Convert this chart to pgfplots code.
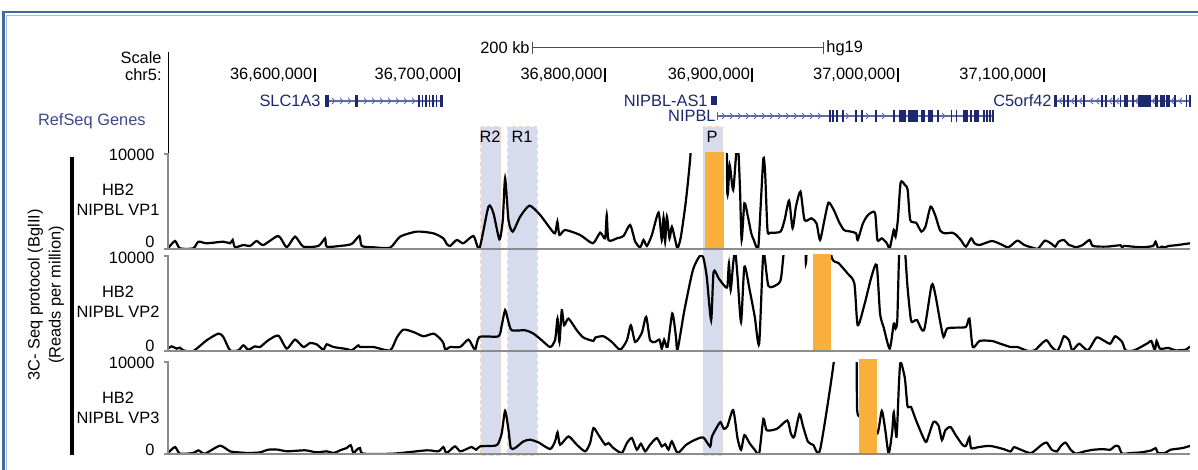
\documentclass[border=0pt]{standalone}
\usepackage{pgfplots}
\pgfplotsset{compat=1.18}
\usepackage{fontspec}
\setmainfont{Liberation Sans}
\definecolor{hl}{RGB}{214,219,237}
\definecolor{hlb}{RGB}{247,210,190}
\definecolor{org}{RGB}{250,174,60}
\definecolor{gnav}{RGB}{30,40,110}
\definecolor{gint}{RGB}{95,105,170}
\definecolor{frameb}{RGB}{62,108,160}
\definecolor{framel}{RGB}{165,190,218}
\definecolor{axg}{RGB}{140,140,140}
\definecolor{refc}{RGB}{60,72,140}
\newcommand\tf{\fontsize{8.2}{10}\selectfont}
\pgfplotsset{
  panel/.style={scale only axis, width=511pt, xmin=36500, xmax=37200, ymin=0, ymax=10000,
    hide axis, anchor=south west, clip mode=individual},
  trace/.style={black, line width=1.1pt, smooth, tension=0.4}
}
\begin{document}
\begin{tikzpicture}[x=0.5pt,y=-0.5pt, every node/.style={font=\tf, inner sep=0pt}]
\path[use as bounding box] (0,0) rectangle (1198,470);
% frame
\draw[frameb, line width=1.3pt] (3.5,470) -- (3.5,12) -- (1198,12);
\draw[framel, line width=0.5pt] (6,470) -- (6,15.5) -- (1198,15.5);
% highlight regions
\foreach \a/\b in {480.7/500.7, 507.7/537.3, 703.3/722.5} {
  \fill[hl] (\a,127) rectangle (\b,455);
  \draw[hlb, line width=0.5pt, dash pattern=on 2pt off 1.5pt] (\a,127) rectangle (\b,455);
}
\node at (490,137) {R2};
\node at (522,137) {R1};
\node at (712,137) {P};
% header
\node[anchor=east] at (162,58) {Scale};
\node[anchor=east] at (162,75) {chr5:};
\draw[line width=0.5pt] (168,52) -- (168,154);
\node[anchor=east] at (530,48) {200 kb};
\draw[black!70, line width=0.5pt] (532,42)--(532,54) (532,48)--(823,48) (823,42)--(823,54);
\node[anchor=west] at (826,48) {hg19};
\node[anchor=east] at (312.6,75) {36,600,000};
\node[anchor=east] at (457.2,75) {36,700,000};
\node[anchor=east] at (603,75) {36,800,000};
\node[anchor=east] at (750.3,75) {36,900,000};
\node[anchor=east] at (895.7,75) {37,000,000};
\node[anchor=east] at (1041.9,75) {37,100,000};
\foreach \x in {314.6,459.2,605,752.3,897.7,1043.9} \draw[line width=1pt] (\x,68)--(\x,82);
% genes
\node[anchor=east, text=refc] at (146,121) {RefSeq Genes};
\node[anchor=east, text=gnav] at (321,101) {SLC1A3};
\node[anchor=east, text=gnav] at (708,101) {NIPBL-AS1};
\node[anchor=east, text=gnav] at (716,116) {NIPBL};
\node[anchor=east, text=gnav] at (1052,101) {C5orf42};
% SLC1A3
\draw[gint, line width=0.6pt] (324.5,101)--(443,101);
\foreach \x in {334,342,...,414} \draw[gint, line width=0.5pt] (\x-2,98)--(\x+1,101)--(\x-2,104);
\foreach \a/\b in {324.5/328.5, 355/357.5, 418/419.6, 421.5/423.1, 425/426.6, 428.5/430.1, 432/433.6, 435.5/437.1, 439.5/443}
  \fill[gnav] (\a,95) rectangle (\b,107);
% NIPBL-AS1
\fill[gnav] (710.5,96) rectangle (717,105);
% NIPBL
\draw[gint, line width=0.6pt] (717,116)--(994,116);
\draw[gint, line width=0.6pt] (717.5,112)--(717.5,120);
\foreach \x in {724,732,...,824} \draw[gint, line width=0.5pt] (\x-2,113)--(\x+1,116)--(\x-2,119);
\foreach \x in {848,868,884,914,944} \draw[gint, line width=0.5pt] (\x-2,113)--(\x+1,116)--(\x-2,119);
\foreach \a/\b in {829/830.5, 832/833.5, 836/837.5, 842/843.5, 855/856.5, 861/862.5, 875/876.5, 893/894.5, 898.5/906, 908/918, 921/925, 928/933, 937/939, 951/952, 956/957, 963/968, 970/972, 974/979, 983/984.5, 986/987.5, 989/990.5, 992/994}
  \fill[gnav] (\a,110) rectangle (\b,122);
% C5orf42
\draw[gint, line width=0.6pt] (1053.5,101)--(1191,101);
\foreach \x in {1060,1072,1080,1091,1097,1110,1117,1136,1153,1172,1180} \draw[gint, line width=0.5pt] (\x+2,98)--(\x-1,101)--(\x+2,104);
\foreach \a/\b in {1053.5/1057, 1063/1064.5, 1067/1069, 1075/1076.5, 1083/1084.5, 1101/1102.5, 1105/1106.5, 1113/1115, 1119.5/1121, 1124/1128, 1132/1134, 1138/1151, 1155/1158, 1159.5/1164.5, 1166/1170, 1174/1175.5, 1185.5/1187, 1189/1190.5}
  \fill[gnav] (\a,95) rectangle (\b,107);
% left labels
\draw[line width=1.6pt] (72,157)--(72,455);
\node[rotate=90, align=center, font=\fontsize{8.2}{10.5}\selectfont] at (46,295) {3C- Seq protocol (BglII)\\(Reads per million)};
\node[align=center] at (118,200) {HB2\\NIPBL VP1};
\node[align=center] at (118,302) {HB2\\NIPBL VP2};
\node[align=center] at (118,408) {HB2\\NIPBL VP3};
\node[anchor=east] at (155,155) {10000};
\node[anchor=east] at (155,242) {0};
\node[anchor=east] at (155,258) {10000};
\node[anchor=east] at (155,346) {0};
\node[anchor=east] at (155,363) {10000};
\node[anchor=east] at (155,450) {0};
\coordinate (A1) at (168,249);
\coordinate (A2) at (168,351);
\coordinate (A3) at (168,454);
% panel 1
\begin{axis}[panel, at={(A1)}, height=47.5pt]
\addplot[trace] table {
36500 70
36504.8 840
36508.2 70
36517.3 70
36520.8 770
36526.5 600
36537.9 770
36542.5 600
36544.3 950
36545.9 180
36551.6 420
36556.2 320
36560.7 840
36565.3 420
36575.6 1370
36581.3 180
36587.0 1300
36592.7 250
36603.0 320
36607.6 1120
36608.7 250
36617.8 320
36625.8 530
36631.1 1370
36632.7 320
36640.7 180
36652.1 140
36659.0 1300
36670.4 1830
36681.8 1650
36688.6 1120
36690.9 530
36693.2 320
36697.8 950
36702.3 600
36709.2 1370
36713.3 70
36719.5 4460
36722.9 3760
36727.0 1020
36729.3 3050
36730.9 7440
36733.2 3050
36736.1 1830
36741.2 3400
36747.6 4560
36754.9 3580
36761.7 2180
36765.1 1650
36766.7 2880
36768.1 1470
36772.0 2000
36782.3 1470
36791.0 600
36796.0 1720
36799.4 1120
36800.5 3580
36801.7 950
36807.4 1120
36812.0 1370
36816.5 2530
36820.0 770
36823.4 180
36825.7 950
36828.0 320
36831.4 1470
36836.0 3830
36838.2 950
36839.4 3330
36840.5 770
36841.7 3400
36843.5 1120
36845.1 2350
36847.4 950
36849.0 70
36851.3 1300
36854.8 5160
36857.9 10000
36859.5 15000
36880.5 20000
36883.1 5930
36884.7 8850
36887.1 6210
36889.4 10500
36890.6 10500
36891.8 6210
36892.9 950
36894.8 4810
36897.2 3400
36899.5 1650
36901.2 950
36904.2 70
36905.9 4460
36907.8 9550
36909.0 7970
36910.6 2000
36912.5 1720
36919.5 1830
36922.3 3050
36925.4 5090
36927.8 2180
36930.1 4460
36933.2 6040
36936.0 3050
36940.7 3230
36944.2 2700
36946.6 950
36949.6 3050
36952.4 4880
36956.0 4110
36959.5 2880
36963.0 2000
36967.7 1830
36971.3 1650
36972.4 950
36976.0 2700
36979.5 3580
36984.2 3830
36985.9 950
36988.9 1120
36992.4 600
36994.3 70
36997.1 2000
36998.3 1300
36999.9 3050
37001.8 6980
37004.7 6740
37006.6 6210
37008.4 3050
37012.4 2770
37016.0 1830
37018.8 2350
37022.3 4460
37025.4 3580
37028.9 1930
37032.4 1650
37037.1 1720
37039.9 1470
37043.0 950
37046.5 250
37050.1 1120
37052.4 600
37055.9 420
37064.2 840
37070.0 530
37074.8 180
37077.1 320
37081.8 880
37086.5 420
37091.2 180
37095.9 40
37100.6 880
37105.3 530
37107.7 250
37110.0 770
37113.6 950
37117.1 420
37119.4 320
37121.8 180
37126.5 420
37131.2 950
37133.5 320
37143.0 250
37152.4 390
37153.5 70
37154.7 320
37166.5 180
37174.7 320
37176.4 770
37178.2 70
37180.6 250
37182.9 180
37185.3 320
37190.0 390
37200.0 600
};
\fill[org] (axis cs:36867.8,0) rectangle (axis cs:36880.7,10250);
\end{axis}
% panel 2
\begin{axis}[panel, at={(A2)}, height=47.5pt]
\addplot[trace] table {
36500 250
36502.5 490
36505.9 250
36508.2 350
36510.5 70
36517.3 0
36526.5 1130
36534.5 1830
36537.9 1480
36542.5 70
36548.2 70
36551.6 600
36555.0 140
36559.6 490
36563.0 420
36568.7 1130
36575.6 1620
36581.3 250
36587.0 1200
36592.7 420
36597.3 840
36601.8 700
36606.4 140
36608.7 700
36613.3 420
36622.4 210
36625.8 70
36630.4 600
36631.5 420
36640.7 420
36652.1 70
36656.7 1410
36661.2 2250
36668.1 2000
36675.0 1550
36681.8 1830
36686.4 1300
36688.6 840
36690.0 140
36693.2 420
36700.1 420
36705.8 1200
36710.3 140
36713.3 1480
36726.3 1550
36728.6 2710
36730.9 4290
36733.2 3060
36735.5 2180
36744.6 2180
36750.3 1830
36756.0 1130
36761.7 420
36765.1 1130
36766.8 3410
36768.1 950
36769.7 4290
36771.3 2710
36774.3 3410
36780.0 2180
36784.6 1410
36791.4 1060
36792.6 1410
36798.3 1550
36804.0 950
36809.7 140
36814.3 1130
36817.0 2710
36820.0 950
36824.5 1900
36827.5 3590
36830.2 1130
36833.7 950
36836.6 1200
36838.2 250
36839.8 1200
36842.1 420
36845.4 3940
36847.8 1650
36849.0 140
36853.7 4290
36859.5 8520
36864.2 10000
36866.6 9860
36869.0 7810
36872.0 3240
36873.7 8340
36877.2 7640
36880.7 6930
36883.1 6760
36884.2 9220
36885.4 6410
36887.1 9220
36888.5 10500
36890.1 7810
36892.5 3060
36894.8 8870
36898.4 6410
36901.9 3590
36904.9 770
36907.8 10300
36911.3 6830
36918.3 7110
36920.0 7810
36921.9 10600
36926.6 17000
36935.5 14000
36936.9 9220
36937.9 12400
36940.7 17000
36953.0 15000
36954.5 9900
36959.5 9220
36965.4 8170
36970.1 7110
36972.4 2710
36977.2 5000
36981.8 7810
36985.4 9050
36987.7 3940
36990.1 2530
36994.3 250
36997.1 2890
36998.3 2360
36999.5 3240
37000.7 10000
37001.8 12000
37004.5 11000
37006.5 6760
37008.9 3240
37011.2 3170
37013.1 3240
37017.8 2180
37023.0 6930
37025.4 6050
37028.9 3060
37031.2 1480
37033.6 2360
37039.5 2460
37046.5 2530
37048.9 3410
37051.2 420
37055.9 1060
37064.2 1060
37070.0 770
37077.1 420
37081.8 420
37088.9 0
37093.6 70
37098.3 770
37101.8 1130
37105.3 420
37108.9 0
37111.2 600
37113.6 1550
37117.1 1130
37119.4 70
37124.1 770
37130.0 70
37135.9 1410
37140.6 1130
37145.3 770
37148.8 1550
37153.5 950
37155.9 70
37161.8 70
37171.2 840
37173.5 1060
37175.9 70
37177.1 1060
37179.4 250
37185.3 320
37190.0 70
37197.1 140
37200.0 490
};
\fill[org] (axis cs:36941.9,0) rectangle (axis cs:36954.3,10250);
\end{axis}
% panel 3
\begin{axis}[panel, at={(A3)}, height=46pt]
\addplot[trace] table {
36500 110
36504.8 760
36508.2 40
36517.3 110
36520.8 400
36525.3 40
36535.6 900
36542.5 290
36548.2 180
36555.0 110
36563.0 180
36568.7 470
36575.6 470
36581.3 290
36593.9 400
36601.8 180
36608.7 290
36613.3 110
36619.0 470
36622.4 650
36625.1 970
36627.0 110
36629.3 470
36631.5 650
36633.8 40
36654.4 40
36677.2 400
36685.2 290
36688.6 760
36690.5 110
36693.2 400
36696.6 830
36700.1 290
36703.5 470
36708.0 760
36711.0 470
36713.8 830
36724.0 900
36726.3 1190
36728.6 2270
36730.9 4690
36733.2 2640
36734.8 650
36737.7 650
36743.5 1370
36748.0 1550
36753.7 1260
36761.7 540
36765.1 1370
36766.8 2350
36768.6 1010
36774.3 1910
36780.0 1010
36785.7 290
36789.1 1190
36791.4 2820
36794.8 2090
36799.4 1010
36801.7 1190
36805.1 650
36810.8 110
36814.3 1190
36817.7 1730
36821.1 470
36823.9 1120
36826.8 290
36830.2 1010
36834.8 1730
36838.2 830
36840.5 1080
36842.8 470
36845.1 1370
36849.0 110
36854.8 990
36860.7 1520
36866.6 1800
36871.3 810
36872.5 1870
36876.0 2930
36878.4 3460
36880.7 2750
36883.1 3000
36887.1 4770
36890.1 1690
36892.5 460
36894.8 2050
36898.4 1160
36901.9 460
36904.9 40
36907.8 3810
36910.1 2580
36917.2 2750
36924.2 3640
36926.6 2220
36928.9 1870
36932.5 4340
36934.8 3110
36938.3 1340
36941.9 990
36946.6 460
36956.0 10000
36958.3 16000
36970.0 16000
36971.6 10500
36972.0 4770
36974.0 4000
36980.0 3000
36985.9 2220
36988.9 4690
36991.3 2580
36993.6 40
36996.0 2400
36997.1 4520
36999.0 1870
37000.7 7870
37001.8 10000
37004.7 8220
37006.5 5220
37008.9 5120
37012.4 3640
37017.1 1870
37019.5 1340
37024.2 3460
37027.7 3110
37030.1 1520
37032.4 2580
37036.0 2930
37039.5 2050
37044.2 990
37046.5 880
37048.9 1800
37050.1 640
37054.8 740
37063.0 880
37072.4 530
37077.1 280
37079.5 740
37084.2 460
37091.2 110
37098.3 990
37101.8 1240
37105.3 460
37108.9 280
37111.2 810
37114.7 1240
37118.3 460
37121.8 40
37127.7 280
37133.6 460
37140.6 530
37145.3 460
37148.8 880
37151.2 810
37153.5 40
37159.4 110
37166.5 180
37173.5 390
37176.4 640
37178.2 110
37182.9 110
37186.5 460
37194.7 640
37200.0 880
};
\fill[org] (axis cs:36973.6,0) rectangle (axis cs:36985.9,10300);
\end{axis}
% baselines and brackets
\foreach \t/\b in {154/249, 256/351, 362/454} {
  \draw[axg, line width=1pt] (168,\b) -- (1190,\b);
  \draw[axg, line width=1pt] (164,\t) -- (168,\t) -- (168,\b) -- (164,\b);
}
\end{tikzpicture}
\end{document}
